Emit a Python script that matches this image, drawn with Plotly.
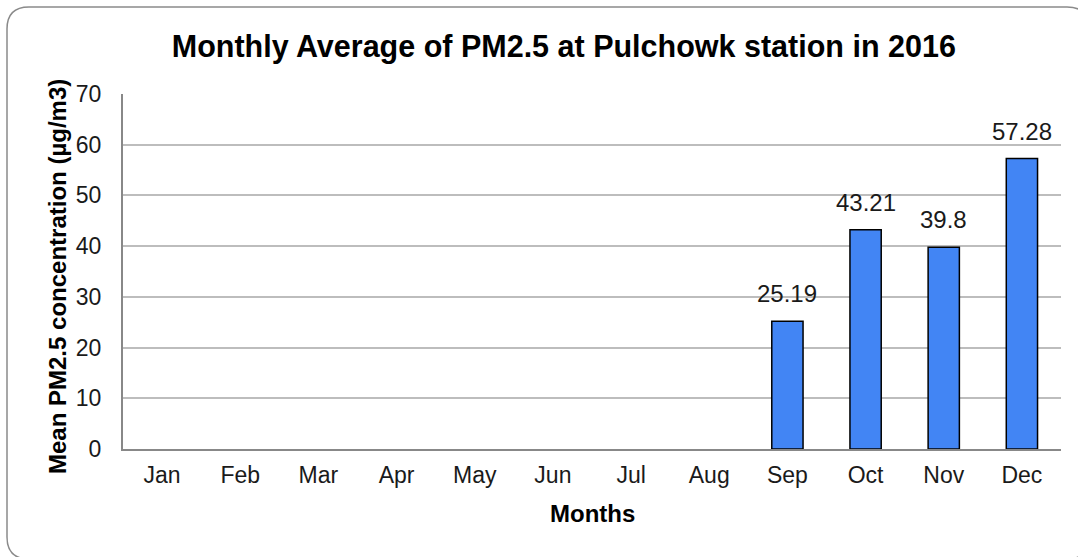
import plotly.graph_objects as go

months = ["Jan", "Feb", "Mar", "Apr", "May", "Jun", "Jul", "Aug", "Sep", "Oct", "Nov", "Dec"]
pm25 = [None, None, None, None, None, None, None, None, 25.19, 43.21, 39.8, 57.28]
y_ticks = [0, 10, 20, 30, 40, 50, 60, 70]

W, H = 1078, 557
L, R, T, B = 123, 17, 94, 108
pw, ph = W - L - R, H - T - B

def px(x):
    return (x - L) / pw

def py(y):
    return (H - B - y) / ph

FONT = "Liberation Sans, Arial"

fig = go.Figure()
fig.add_trace(go.Bar(
    x=months, y=pm25,
    marker=dict(color="#4285F4", line=dict(color="#000000", width=1.5)),
    width=0.4, cliponaxis=False, hoverinfo="skip",
))

# data labels
for m, v in zip(months, pm25):
    if v is None:
        continue
    fig.add_annotation(x=m, y=v, text=f"{v:g}", showarrow=False, xanchor="center",
                       yanchor="bottom", yshift=12,
                       font=dict(family=FONT, size=24, color="#1a1a1a"))

# rounded border (extends past right and bottom edges of the picture)
x0, x1, y0, y1, r = 7, 1089, 7, 559, 22
path = (
    f"M {px(x0 + r)},{py(y0)} L {px(x1 - r)},{py(y0)} "
    f"Q {px(x1)},{py(y0)} {px(x1)},{py(y0 + r)} "
    f"L {px(x1)},{py(y1 - r)} Q {px(x1)},{py(y1)} {px(x1 - r)},{py(y1)} "
    f"L {px(x0 + r)},{py(y1)} Q {px(x0)},{py(y1)} {px(x0)},{py(y1 - r)} "
    f"L {px(x0)},{py(y0 + r)} Q {px(x0)},{py(y0)} {px(x0 + r)},{py(y0)} Z"
)
fig.add_shape(type="path", path=path, xref="paper", yref="paper",
              line=dict(color="#8a8a8a", width=1.5), layer="below")

# axis titles
fig.add_annotation(text="<b>Months</b>", xref="paper", yref="paper",
                   x=px(592), y=py(513), xanchor="center", yanchor="middle",
                   showarrow=False, font=dict(family=FONT, size=24, color="#000000"))
fig.add_annotation(text="<b>Mean PM2.5 concentration (µg/m3)</b>", xref="paper", yref="paper",
                   x=px(57), y=py(277), xanchor="center", yanchor="middle", textangle=-90,
                   showarrow=False, font=dict(family=FONT, size=24, color="#000000"))

fig.update_layout(
    width=W, height=H,
    margin=dict(l=L, r=R, t=T, b=B, autoexpand=False),
    paper_bgcolor="white", plot_bgcolor="white",
    font=dict(family=FONT, size=23, color="#1a1a1a"),
    title=dict(text="<b>Monthly Average of PM2.5 at Pulchowk station in 2016</b>",
               x=0.523, xanchor="center", y=1 - 46 / H, yanchor="middle",
               font=dict(size=30.5, color="#000000")),
    showlegend=False,
    xaxis=dict(
        automargin=False,
        showline=True, linecolor="#888888", linewidth=2,
        ticks="", tickfont=dict(size=23), showgrid=False, ticklabelstandoff=4,
    ),
    yaxis=dict(
        automargin=False,
        range=[0, 70], tickvals=y_ticks, showline=True, linecolor="#888888", linewidth=2,
        showgrid=True, gridcolor="#bdbdbd", gridwidth=1.5, zeroline=False,
        ticks="", ticklabelstandoff=15, tickfont=dict(size=23),
    ),
)

fig.write_html("out.html", config={"displayModeBar": False},
               post_script="document.body.style.margin='0';")
